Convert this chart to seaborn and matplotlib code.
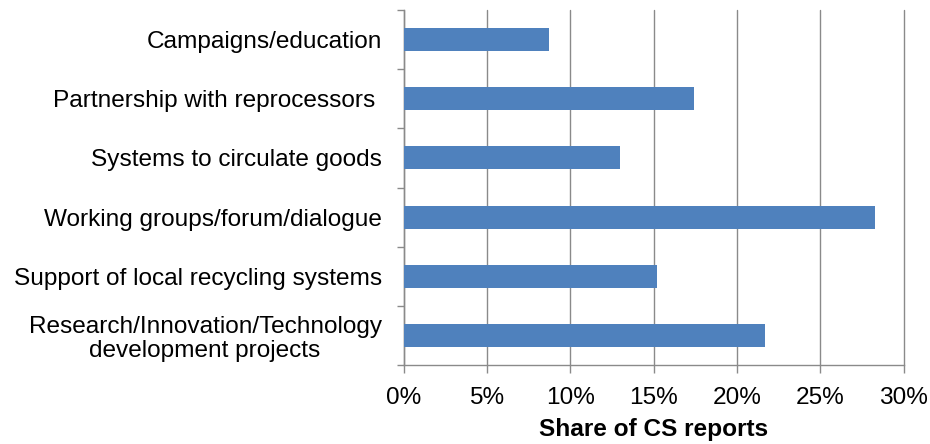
import matplotlib
matplotlib.use("Agg")
import matplotlib.pyplot as plt
import seaborn as sns
import pandas as pd
import numpy as np
from matplotlib.ticker import FixedLocator, PercentFormatter

categories = [
    "Campaigns/education",
    "Partnership with reprocessors ",
    "Systems to circulate goods",
    "Working groups/forum/dialogue",
    "Support of local recycling systems",
    "Research/Innovation/Technology\ndevelopment projects",
]
shares = [8.7, 17.4, 13.0, 28.3, 15.2, 21.7]
x_ticks = [0, 5, 10, 15, 20, 25, 30]
x_label = "Share of CS reports"

sns.set_theme(style="white")
plt.rcParams["font.family"] = ["Liberation Sans", "DejaVu Sans"]

df = pd.DataFrame({"category": categories, "share": shares})

W, H = 930, 444
left, right, top, bottom = 403.6, 903.7, 10, 365
fig = plt.figure(figsize=(W / 100, H / 100), dpi=100)
ax = fig.add_axes([left / W, 1 - bottom / H, (right - left) / W, (bottom - top) / H])

sns.barplot(data=df, x="share", y="category", orient="h", color="#4F81BD",
            saturation=1, width=0.39, linewidth=0, ax=ax, zorder=3)

ax.set_xlim(0, 30)
ax.set_ylim(len(categories) - 0.5, -0.5)
ax.xaxis.set_major_locator(FixedLocator(x_ticks))
ax.xaxis.set_major_formatter(PercentFormatter(decimals=0))
ax.grid(axis="x", color="#8a8a8a", linewidth=1.0, zorder=0)
for gl in ax.get_xgridlines():
    gl.set_clip_on(False)
ax.set_axisbelow(True)

for s in ["top", "right"]:
    ax.spines[s].set_visible(False)
for s in ["left", "bottom"]:
    ax.spines[s].set_color("#8a8a8a")
    ax.spines[s].set_linewidth(1.0)

fs = 17.6
ax.tick_params(axis="x", which="major", direction="out", length=5.8, width=1,
               color="#8a8a8a", labelsize=fs, pad=10.3, labelcolor="black", bottom=True)
ax.tick_params(axis="y", which="major", length=0, labelsize=fs, pad=15.8, labelcolor="black")
ax.yaxis.set_minor_locator(FixedLocator(np.arange(-0.5, len(categories), 1.0)))
ax.tick_params(axis="y", which="minor", direction="out", length=5, width=1,
               color="#8a8a8a", left=True)

for lbl in ax.get_yticklabels():
    lbl.set_multialignment("center")
    lbl.set_linespacing(1.12)

ax.set_ylabel("")
ax.set_xlabel(x_label, fontsize=fs, fontweight="bold", labelpad=6.0, color="black")

fig.savefig("out.png", dpi=100)
